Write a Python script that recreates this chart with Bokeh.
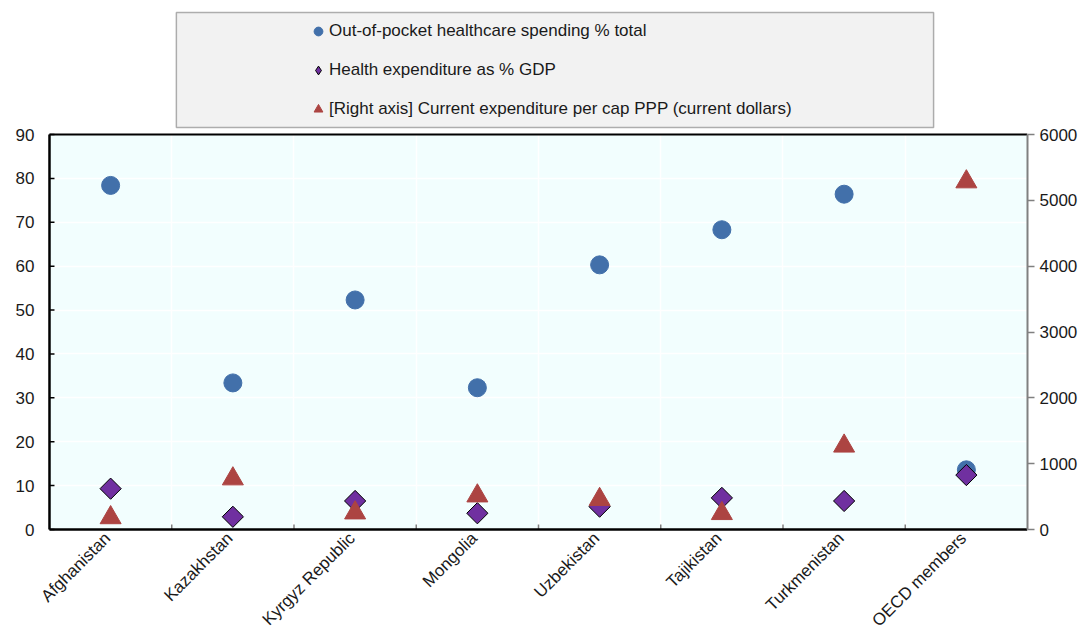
import math
from bokeh.plotting import figure
from bokeh.core.properties import value
from bokeh.models import (ColumnDataSource, Range1d, LinearAxis, FixedTicker, Legend, LegendItem,
                          BoxAnnotation, Grid)
from bokeh.embed import file_html
from bokeh.resources import INLINE

# ---- data ----
categories = ["Afghanistan", "Kazakhstan", "Kyrgyz Republic", "Mongolia",
              "Uzbekistan", "Tajikistan", "Turkmenistan", "OECD members"]
out_of_pocket = [78.4, 33.4, 52.3, 32.3, 60.3, 68.3, 76.4, 13.6]
health_exp_gdp = [9.3, 2.9, 6.5, 3.7, 5.2, 7.2, 6.5, 12.4]
exp_per_cap_ppp = [180, 770, 253, 511, 457, 243, 1268, 5282]
left_ticks = [0, 10, 20, 30, 40, 50, 60, 70, 80, 90]
right_ticks = [0, 1000, 2000, 3000, 4000, 5000, 6000]
series_labels = ["Out-of-pocket healthcare spending % total",
                 "Health expenditure as % GDP",
                 "[Right axis] Current expenditure per cap PPP (current dollars)"]

FONT = "Liberation Sans"
FS = "17px"
TXT = "#1a1a1a"
BLUE = "#4270AA"
PURPLE = "#7030A0"
RED = "#AC4442"
PLOT_BG = "#F2FEFE"

# ---- layout constants (pixels) ----
W, H = 1080, 630
FRAME_L, BORDER_R = 40, 52
AXIS_X = 49                                # left edge of the plotting area
AREA_TOP, AREA_BOTTOM = 134, 529           # plotting area inside the frame
LEG_L, LEG_R, LEG_T, LEG_B = 176, 934, 12, 127
LEG_GLYPH_L = 307
TICK_PX = 5

n = len(categories)
YMAX, RMAX = 90, 6000
x_pos = [i + 0.5 for i in range(n)]
boundaries = list(range(1, n))

area_right = W - BORDER_R
ppx = (area_right - AXIS_X) / n                 # px per category
ppu = (AREA_BOTTOM - AREA_TOP) / YMAX           # px per left-axis unit
x0 = -(AXIS_X - FRAME_L) / ppx
y0 = -(H - AREA_BOTTOM) / ppu
y1 = YMAX + AREA_TOP / ppu
k = RMAX / YMAX

src = ColumnDataSource(dict(x=x_pos, oop=out_of_pocket, gdp=health_exp_gdp, ppp=exp_per_cap_ppp))

p = figure(width=W, height=H, x_range=Range1d(x0, n), y_range=Range1d(y0, y1),
           output_backend="svg", toolbar_location=None, x_axis_location=None,
           min_border_left=FRAME_L, min_border_right=BORDER_R,
           min_border_top=0, min_border_bottom=0)
p.extra_y_ranges = {"right": Range1d(y0 * k, y1 * k)}
p.outline_line_color = None
p.background_fill_color = "white"
p.border_fill_color = "white"

# plotting-area background
p.add_layout(BoxAnnotation(left=0, right=n, bottom=0, top=YMAX, level="image",
                           fill_color=PLOT_BG, fill_alpha=1, line_color=None))

# left axis: tick labels from the axis, line and inward ticks drawn at x = 0
ya = p.yaxis[0]
ya.ticker = FixedTicker(ticks=left_ticks)
ya.axis_line_color = None
ya.major_tick_line_color = None
ya.minor_tick_line_color = None
ya.major_tick_in = 0
ya.major_tick_out = 0
ya.major_label_standoff = 15 - (AXIS_X - FRAME_L)
ya.major_label_text_font = FONT
ya.major_label_text_font_size = FS
ya.major_label_text_color = TXT

# right axis
ra = LinearAxis(y_range_name="right", ticker=FixedTicker(ticks=right_ticks), bounds=(0, RMAX))
ra.major_tick_in = 0
ra.major_tick_out = 7
ra.major_tick_line_color = "#808080"
ra.major_tick_line_width = 1.5
ra.minor_tick_line_color = None
ra.axis_line_color = "#808080"
ra.axis_line_width = 2
ra.major_label_standoff = 5
ra.major_label_text_font = FONT
ra.major_label_text_font_size = FS
ra.major_label_text_color = TXT
p.add_layout(ra, "right")

# grids
p.ygrid.grid_line_color = "white"
p.ygrid.grid_line_width = 1.5
p.xgrid.visible = False
p.add_layout(Grid(dimension=0, ticker=FixedTicker(ticks=boundaries),
                  grid_line_color="white", grid_line_width=1.5))

# inward ticks (bottom at category boundaries, left at value ticks)
p.segment(x0=boundaries, y0=[0] * len(boundaries), x1=boundaries,
          y1=[TICK_PX / ppu] * len(boundaries), line_color="#808080", line_width=1.5)
p.segment(x0=[0] * len(left_ticks), y0=left_ticks, x1=[TICK_PX / ppx] * len(left_ticks),
          y1=left_ticks, line_color="black", line_width=1.5)
# frame lines: top, bottom, left
p.segment(x0=[0], y0=[YMAX], x1=[n], y1=[YMAX], line_color="black", line_width=2)
p.segment(x0=[0], y0=[0], x1=[n], y1=[0], line_color="black", line_width=2.5)
p.segment(x0=[0], y0=[0], x1=[0], y1=[YMAX], line_color="black", line_width=2.5)

# data glyphs
r1 = p.scatter("x", "oop", source=src, marker="circle", size=18,
               fill_color=BLUE, line_color=BLUE)
r2 = p.scatter("x", "gdp", source=src, marker="square", angle=math.pi / 4, size=15,
               fill_color=PURPLE, line_color="black", line_width=1)
r3 = p.scatter("x", "ppp", source=src, marker="triangle", size=21,
               fill_color=RED, line_color=RED, y_range_name="right")
r2_leg = p.scatter("x", "gdp", source=src, marker="diamond", size=15,
                   fill_color=PURPLE, line_color="black", line_width=1, visible=False)

# category labels under the axis
lab_src = ColumnDataSource(dict(x=x_pos, y=[0] * n, text=categories))
p.text("x", "y", text="text", source=lab_src, angle=math.pi / 4,
       x_offset=-3, y_offset=6,
       text_align="right", text_baseline="middle",
       text_font=value(FONT), text_font_size=FS, text_color=TXT)

# legend box + legend
p.add_layout(BoxAnnotation(left=(LEG_L - AXIS_X) / ppx, right=(LEG_R - AXIS_X) / ppx,
                           top=(AREA_BOTTOM - LEG_T) / ppu, bottom=(AREA_BOTTOM - LEG_B) / ppu,
                           fill_color="#F2F2F2", fill_alpha=1,
                           line_color="black", line_width=1.5))
ROW_H, SPACING = 30, 9
leg_h = 3 * ROW_H + 2 * SPACING
leg_top = (LEG_T + LEG_B) / 2 - leg_h / 2
legend = Legend(
    items=[LegendItem(label=series_labels[0], renderers=[r1]),
           LegendItem(label=series_labels[1], renderers=[r2_leg]),
           LegendItem(label=series_labels[2], renderers=[r3])],
    location=(LEG_GLYPH_L - FRAME_L, H - leg_top - leg_h), orientation="vertical",
    padding=0, spacing=SPACING, margin=0,
    glyph_width=22, glyph_height=ROW_H,
    label_standoff=0, label_height=ROW_H,
    label_text_font=FONT, label_text_font_size=FS, label_text_color=TXT,
    background_fill_alpha=0, border_line_color=None,
)
p.add_layout(legend, "center")

open("out.html", "w").write(file_html(p, INLINE))
